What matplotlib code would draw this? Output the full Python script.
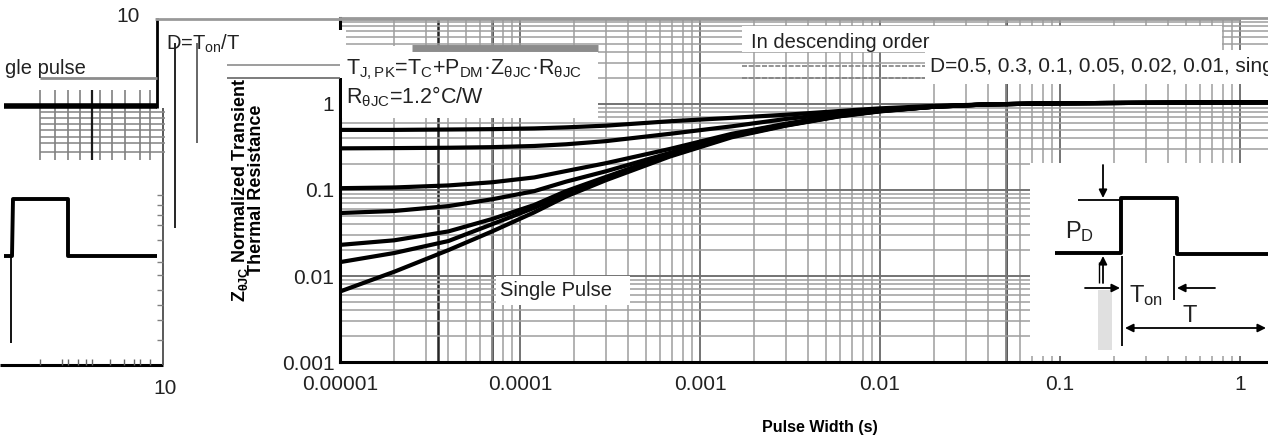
import matplotlib
matplotlib.use('Agg')
import matplotlib.pyplot as plt
from matplotlib.patches import Rectangle, FancyArrowPatch
from matplotlib.lines import Line2D

plt.rcParams['font.family'] = ['Liberation Sans', 'DejaVu Sans']

# ---------------- data ----------------
pulse_width = [1e-5, 2e-5, 4e-5, 7e-5, 1.2e-4, 1.8e-4, 3e-4, 6.8e-4, 1.5e-3,
               3e-3, 6e-3, 1e-2, 2e-2, 4e-2, 1e-1, 1.0, 1.43]
z_d050 = [0.50, 0.50, 0.505, 0.51, 0.52, 0.535, 0.56, 0.63, 0.69,
          0.75, 0.83, 0.89, 0.95, 0.99, 1.02, 1.045, 1.05]
z_d030 = [0.305, 0.307, 0.31, 0.315, 0.325, 0.34, 0.37, 0.45, 0.55,
          0.67, 0.78, 0.86, 0.94, 0.99, 1.02, 1.045, 1.05]
z_d010 = [0.105, 0.107, 0.113, 0.123, 0.14, 0.166, 0.205, 0.30, 0.45,
          0.59, 0.745, 0.84, 0.93, 0.99, 1.02, 1.045, 1.05]
z_d005 = [0.054, 0.057, 0.065, 0.078, 0.097, 0.125, 0.165, 0.27, 0.44,
          0.58, 0.74, 0.835, 0.93, 0.99, 1.02, 1.045, 1.05]
z_d002 = [0.023, 0.026, 0.033, 0.046, 0.067, 0.097, 0.142, 0.26, 0.43,
          0.57, 0.73, 0.83, 0.93, 0.99, 1.02, 1.045, 1.05]
z_d001 = [0.0145, 0.0185, 0.0255, 0.040, 0.062, 0.09, 0.135, 0.25, 0.42,
          0.565, 0.725, 0.825, 0.93, 0.99, 1.02, 1.045, 1.05]
z_single = [0.0066, 0.0112, 0.020, 0.033, 0.055, 0.084, 0.13, 0.245, 0.41,
            0.56, 0.72, 0.82, 0.93, 0.99, 1.02, 1.045, 1.05]
series = [z_d050, z_d030, z_d010, z_d005, z_d002, z_d001, z_single]

x_ticks = [1e-5, 1e-4, 1e-3, 1e-2, 1e-1, 1]
x_tick_labels = ['0.00001', '0.0001', '0.001', '0.01', '0.1', '1']
y_ticks = [0.001, 0.01, 0.1, 1]
y_tick_labels = ['0.001', '0.01', '0.1', '1']
ref_lines = [3.5e-5, 7e-5, 0.05]

W, H = 1268, 441
fig = plt.figure(figsize=(W / 100, H / 100), dpi=100)
fig.patch.set_facecolor('white')

# ---------------- main axes ----------------
ax = fig.add_axes([340 / W, 1 - 362 / H, 928 / W, 344 / H])
ax.set_xscale('log')
ax.set_yscale('log')
ax.set_xlim(1e-5, 1.43)
ax.set_ylim(1e-3, 10)
ax.grid(which='major', color='0.45', lw=1.4)
ax.grid(which='minor', color='0.62', lw=1.1)
for xv in ref_lines:
    ax.axvline(xv, color='0.15', lw=1.8, zorder=1)
for z in series:
    ax.plot(pulse_width, z, color='black', lw=3.0, solid_capstyle='butt',
            solid_joinstyle='round', zorder=5)
ax.set_xticks(x_ticks)
ax.set_xticklabels(x_tick_labels)
ax.set_yticks(y_ticks)
ax.set_yticklabels(y_tick_labels)
ax.tick_params(which='both', length=0, labelsize=15, colors='#222222')
ax.tick_params(axis='x', pad=9)
ax.tick_params(axis='y', pad=4)
for s in ['left', 'bottom']:
    ax.spines[s].set_linewidth(2.2)
    ax.spines[s].set_color('black')
ax.spines['right'].set_visible(False)
ax.spines['top'].set_color('0.6')
ax.spines['top'].set_linewidth(2.0)
ax.set_xlabel('Pulse Width (s)', fontsize=11.5, fontweight='bold')
ax.xaxis.set_label_coords(0.517, -0.17)
ax.set_ylabel('$\\mathregular{Z_{θJC}}$ Normalized Transient\nThermal Resistance',
              fontsize=13, fontweight='bold', linespacing=0.8)
ax.yaxis.set_label_coords(-0.081, 0.5)

# ---------------- overlay in pixel coordinates ----------------
ov = fig.add_axes([0, 0, 1, 1], zorder=10)
ov.set_xlim(0, W)
ov.set_ylim(H, 0)
ov.axis('off')
ov.patch.set_alpha(0)

def line(xs, ys, c='black', lw=1.0, **kw):
    ov.add_line(Line2D(xs, ys, color=c, lw=lw, solid_capstyle='butt', **kw))

def white(x0, y0, x1, y1):
    ov.add_patch(Rectangle((x0, y0), x1 - x0, y1 - y0, facecolor='white',
                           edgecolor='none'))

def arrow(x0, y0, x1, y1, both=False):
    ov.add_patch(FancyArrowPatch((x0, y0), (x1, y1),
                                 arrowstyle='<|-|>' if both else '-|>',
                                 mutation_scale=12, color='black', lw=1.3,
                                 shrinkA=0, shrinkB=0))

# left fragment
line([0, 163], [365, 365], lw=2.2)
line([157, 157], [18, 108], lw=2.0)
line([163, 163], [108, 365], c='0.35', lw=1.4)
line([155, 1240], [19, 19], c='0.6', lw=2.0)
for yy in [112, 118, 124, 130, 137, 143, 152]:
    line([40, 165], [yy, yy], c='0.55', lw=1.2)
for xx in [40, 55, 68, 80, 92, 100, 112, 125, 140, 150]:
    line([xx, xx], [90, 160], c='0.5', lw=1.2)
line([92, 92], [90, 160], c='0.1', lw=1.6)
for yy in [195, 205, 215, 225, 240, 262, 275, 290, 305, 320, 340]:
    line([157, 163], [yy, yy], c='0.5', lw=1.0)
line([40, 157], [78, 78], c='0.55', lw=2.0)
line([4, 157], [106, 106], lw=4.0)
ov.text(5, 68, 'gle pulse', fontsize=14.5, va='center', ha='left', color='#222222')
line([4, 12, 12, 13, 66, 68, 68, 157], [256, 256, 256, 199, 199, 199, 256, 256], lw=2.8)
line([11, 11], [256, 343], lw=1.3)
ov.text(128, 17, '10', fontsize=15, ha='center', va='center', color='#222222')
ov.text(165, 388, '10', fontsize=15, ha='center', va='center', color='#222222')
for xx in [40, 62, 68, 78, 86, 92, 110, 124, 134, 140, 150]:
    line([xx, xx], [365, 359], c='0.4', lw=1.0)

# strip between fragments
ov.text(166, 44, 'D=T$_{\\mathregular{on}}$/T', fontsize=14.5, va='center', ha='left',
        color='#222222')
line([175, 175], [43, 228], lw=1.2)
line([197, 197], [43, 143], c='0.3', lw=1.2)
line([227, 340], [65, 65], c='0.55', lw=1.2)
line([227, 340], [78, 78], c='0.4', lw=1.2)

# equation box
white(342, 46, 598, 118)
white(333, 30, 346, 78)
line([412, 598], [48, 48], c='0.55', lw=5)
ov.text(346, 70, 'T$_{\\mathregular{J,PK}}$=T$_{\\mathregular{C}}$+P$_{\\mathregular{DM}}$·'
        'Z$_{\\mathregular{θJC}}$·R$_{\\mathregular{θJC}}$',
        fontsize=15.5, va='center', ha='left', color='#222222')
ov.text(346, 97, 'R$_{\\mathregular{θJC}}$=1.2°C/W', fontsize=15.5, va='center',
        ha='left', color='#222222')

# descending-order box
white(742, 26, 1222, 52)
white(925, 50, 1268, 84)
line([742, 925], [66, 66], c='0.5', lw=1.2, ls=(0, (3, 1)))
line([742, 925], [78, 78], c='0.5', lw=1.2, ls=(0, (3, 1)))
ov.text(751, 42, 'In descending order', fontsize=14.5, va='center', ha='left',
        color='#222222')
ov.text(930, 67, 'D=0.5, 0.3, 0.1, 0.05, 0.02, 0.01, single pulse', fontsize=15,
        va='center', ha='left', color='#222222', clip_on=True)

# single pulse label
white(496, 276, 630, 305)
ov.text(500, 290, 'Single Pulse', fontsize=14.5, va='center', ha='left',
        color='#222222')

# pulse diagram
white(1030, 163, 1268, 356)
line([1078, 1120], [200, 200], lw=1.3)
line([1055, 1121, 1121, 1175, 1177, 1177, 1268], [253, 253, 198, 198, 198, 254, 254], lw=2.8)
arrow(1103, 165, 1103, 198)
arrow(1103, 283, 1103, 256)
line([1099, 1099], [283, 262], lw=1.0)
ov.add_patch(Rectangle((1098, 290), 14, 60, facecolor='0.88', edgecolor='none'))
line([1122, 1122], [256, 346], lw=1.3)
line([1174, 1174], [256, 300], lw=1.3)
arrow(1085, 288, 1120, 288)
arrow(1215, 288, 1177, 288)
arrow(1125, 328, 1266, 328, both=True)
ov.text(1065, 232, '$\\mathregular{P_D}$', fontsize=17, va='center', ha='left',
        color='#222222')
ov.text(1129, 296, '$\\mathregular{T_{on}}$', fontsize=17, va='center', ha='left',
        color='#222222')
ov.text(1190, 316, 'T', fontsize=17, va='center', ha='center', color='#222222')

fig.savefig('out.png', dpi=100, facecolor='white')
